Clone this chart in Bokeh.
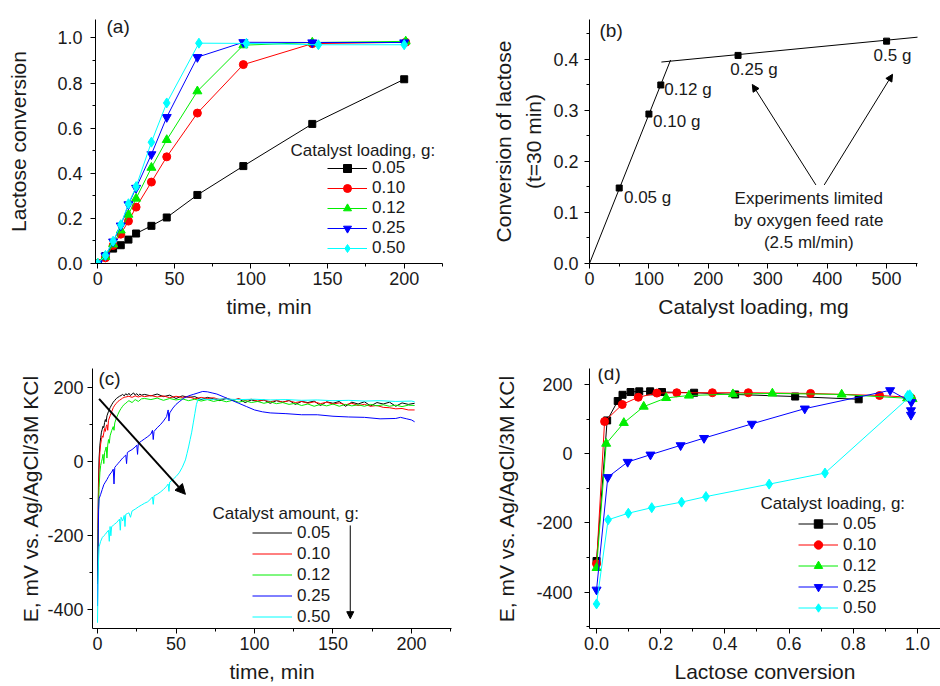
from bokeh.plotting import figure
from bokeh.models import (Range1d, FixedTicker, NumeralTickFormatter, Legend, LegendItem,
                          Label, Arrow, NormalHead)
from bokeh.layouts import column, row
from bokeh.embed import file_html
from bokeh.resources import INLINE

FONT = "Liberation Sans"
TXT = "#1a1a1a"

LOADINGS = ["0.05", "0.10", "0.12", "0.25", "0.50"]
COLORS = ["#000000", "#FF0000", "#00EE00", "#0000FF", "#00FFFF"]
MARKERS = ["square", "circle", "triangle", "inverted_triangle", "diamond"]
MSIZE = [7, 8, 9, 9, 10]

# ---------------- panel (a): conversion vs time ----------------
a_t_005 = [0, 5, 10, 15, 20, 25, 35, 45, 65, 95, 140, 200]
a_x_005 = [0.0, 0.033, 0.066, 0.081, 0.106, 0.133, 0.167, 0.204, 0.304, 0.432, 0.619, 0.817]
a_t_010 = [0, 5, 10, 15, 20, 25, 35, 45, 65, 95, 140, 201]
a_x_010 = [0.0, 0.025, 0.08, 0.13, 0.188, 0.25, 0.361, 0.473, 0.667, 0.882, 0.975, 0.981]
a_t_012 = [0, 5, 10, 15, 20, 25, 35, 45, 65, 95, 140, 201]
a_x_012 = [0.0, 0.03, 0.085, 0.147, 0.217, 0.288, 0.425, 0.548, 0.764, 0.968, 0.98, 0.985]
a_t_025 = [0, 5, 10, 15, 20, 25, 35, 45, 65, 95, 140, 200]
a_x_025 = [0.0, 0.035, 0.097, 0.168, 0.262, 0.335, 0.484, 0.649, 0.915, 0.981, 0.98, 0.98]
a_t_050 = [0, 5, 10, 15, 20, 25, 35, 45, 66, 97, 144, 200]
a_x_050 = [0.0, 0.036, 0.099, 0.172, 0.265, 0.341, 0.538, 0.712, 0.977, 0.976, 0.97, 0.97]

# ---------------- panel (b): conversion at 30 min vs loading ----------------
b_loading_mg = [50, 100, 120, 250, 500]
b_conv30 = [0.148, 0.293, 0.350, 0.408, 0.436]
b_point_labels = ["0.05 g", "0.10 g", "0.12 g", "0.25 g", "0.5 g"]
b_fit1_x = [0, 136.5]
b_fit1_y = [0.0, 0.399]
b_fit2_x = [121, 572]
b_fit2_y = [0.395, 0.446]

# ---------------- panel (c): potential vs time ----------------
c_t_005 = [0, 0.3, 0.6, 1, 1.5, 2, 2.5, 3, 3.5, 4, 4.5, 5, 5.5, 6, 7, 8, 9, 10, 11, 12, 13, 14,
           15, 16, 17, 18, 19, 20, 21, 22, 23, 24, 25, 26, 27, 28,
           30, 34, 38, 42, 46, 50, 54, 58, 62, 66, 70, 74, 78, 82, 86, 90, 94, 98, 102, 106,
           110, 114, 118, 122, 126, 130, 134, 138, 142, 146, 150, 154, 158, 162, 166, 170,
           174, 178, 182, 186, 190, 194, 198, 202]
c_E_005 = [-310, -180, -60, 10, 45, 65, 80, 88, 96, 92, 106, 114, 108, 124, 136, 146, 154, 161,
           166, 171, 174, 177, 179, 182, 178, 184, 180, 185, 179, 183, 186, 180, 184, 179, 183, 180,
           182, 178, 183, 176, 180, 171, 178, 174, 176, 168, 174, 170, 165, 171, 166, 170, 160,
           167, 163, 167, 158, 165, 161, 166, 155, 163, 160, 164, 152, 162, 158, 163, 150, 161,
           156, 162, 151, 160, 156, 161, 150, 159, 155, 158]
c_t_010 = [0, 0.3, 0.6, 1, 1.5, 2, 2.5, 3, 3.5, 4, 4.5, 5, 5.5, 6, 6.5, 7, 8, 9, 10, 11, 12, 13,
           14, 15, 16, 17, 18, 20, 22, 24, 26, 28,
           30, 34, 38, 42, 46, 50, 54, 58, 62, 66, 70, 74, 78, 82, 86, 90, 94, 98, 102, 106,
           110, 114, 118, 122, 126, 130, 134, 138, 142, 146, 150, 154, 158, 162, 166, 170,
           174, 178, 182, 186, 190, 194, 198, 202]
c_E_010 = [-320, -200, -90, -20, 25, 48, 60, 70, 66, 78, 90, 82, 95, 100, 85, 112, 124, 135,
           146, 153, 158, 163, 166, 169, 172, 174, 175, 177, 174, 178, 175, 178,
           176, 179, 175, 178, 173, 177, 174, 176, 170, 174, 171, 173, 168, 172, 167, 170,
           166, 169, 164, 167, 162, 166, 161, 165, 160, 163, 158, 162, 157, 161, 156, 159,
           154, 158, 152, 155, 150, 152, 147, 146, 143, 144, 140, 140]
c_t_012 = [0, 0.3, 0.6, 1, 1.5, 2, 2.5, 3, 3.5, 4, 4.5, 5, 5.5, 6, 6.5, 7, 7.5, 8, 9, 10, 10.5,
           11, 12, 13, 14, 15, 16, 17, 18, 19, 20, 22, 24, 26, 28,
           30, 34, 38, 42, 46, 50, 54, 58, 62, 66, 70, 74, 78, 82, 86, 90, 94, 98, 102, 106,
           110, 114, 118, 122, 126, 130, 134, 138, 142, 146, 150, 154, 158, 162, 166, 170,
           174, 178, 182, 186, 190, 194, 198, 202]
c_E_012 = [-330, -230, -140, -70, -30, -10, 0, 8, 20, -5, 25, 32, 40, 10, 45, 60, 50, 70, 84,
           95, 85, 105, 118, 128, 137, 144, 150, 155, 158, 162, 165, 160, 168, 163, 170,
           171, 168, 172, 166, 171, 167, 170, 165, 169, 164, 168, 163, 167, 162, 166, 161,
           165, 160, 163, 158, 162, 157, 160, 155, 158, 152, 156, 150, 155, 151, 156, 150,
           155, 151, 154, 150, 155, 151, 154, 150, 153, 149, 153, 152]
c_t_025 = [0, 0.3, 0.7, 1, 2, 3, 4, 5, 6, 7, 8, 9, 10, 10.5, 11, 12, 13, 14, 15, 16, 17, 18,
           18.5, 19, 20, 22, 24, 25, 25.5, 26, 28, 30, 32, 34, 35, 35.5, 36, 38, 40, 42, 44,
           45, 45.5, 46, 48, 50, 52, 55, 58, 61, 64, 67, 70, 73, 76, 80, 85, 90, 95, 100,
           105, 110, 115, 120, 130, 140, 150, 160, 170, 180, 190, 193, 197, 200, 202]
c_E_025 = [-390, -250, -130, -100, -88, -75, -62, -55, -48, -40, -33, -28, -20, -60, -15, -10,
           -5, 0, 5, 10, 14, 18, -5, 25, 28, 33, 40, 45, 20, 50, 56, 62, 68, 75, 85, 60, 82,
           92, 100, 110, 122, 140, 110, 132, 145, 155, 162, 172, 178, 182, 186, 190, 189,
           186, 183, 176, 167, 158, 149, 140, 135, 132, 131, 130, 127, 127, 123, 121, 120,
           116, 117, 120, 116, 113, 108]
c_t_050 = [0, 0.3, 0.7, 1, 2, 3, 4, 5, 6, 7, 7.5, 8, 8.5, 9, 10, 11, 12, 13, 14, 14.5, 15, 16,
           17, 17.5, 18, 19, 20, 21, 22, 24, 26, 28, 30, 32, 34, 35, 35.5, 36, 38, 40, 42, 44,
           45, 45.5, 46, 48, 50, 52, 54, 56, 57, 58, 59, 60, 61, 62, 63, 64, 66, 70, 80, 90,
           100, 110, 120, 130, 140, 150, 160, 170, 180, 190, 200, 202]
c_E_050 = [-435, -330, -260, -230, -215, -205, -200, -196, -190, -185, -215, -175, -200, -175,
           -172, -168, -165, -160, -155, -185, -150, -160, -145, -175, -142, -140, -138, -150,
           -133, -128, -122, -117, -112, -108, -100, -95, -115, -92, -88, -82, -75, -66, -60,
           -80, -55, -48, -40, -30, -15, 5, 22, 40, 60, 80, 105, 130, 155, 168, 170, 168, 170,
           168, 169, 167, 168, 166, 167, 165, 166, 164, 165, 163, 164, 162]

# ---------------- panel (d): potential vs conversion ----------------
d_E_005 = [-310, 96, 152, 170, 178, 180, 180, 178, 176, 171, 165, 157]
d_E_010 = [-318, 93, 142, 163, 175, 176, 176, 176, 174, 168, 163, 160]
d_E_012 = [-330, 29, 89, 136, 161, 168, 172, 174, 171, 160, 162, 158]
d_E_025 = [-393, -68, -24, -3, 24, 45, 86, 130, 183, 149, 125, 112]
d_E_050 = [-434, -191, -172, -156, -140, -124, -88, -56, 165, 170, 168, 166]

A_T = [a_t_005, a_t_010, a_t_012, a_t_025, a_t_050]
A_X = [a_x_005, a_x_010, a_x_012, a_x_025, a_x_050]
C_T = [c_t_005, c_t_010, c_t_012, c_t_025, c_t_050]
C_E = [c_E_005, c_E_010, c_E_012, c_E_025, c_E_050]
D_E = [d_E_005, d_E_010, d_E_012, d_E_025, d_E_050]


def make_fig(w, h, xr, yr, left, right, top, bottom):
    p = figure(width=w, height=h, x_range=Range1d(*xr), y_range=Range1d(*yr),
               output_backend="svg", toolbar_location=None,
               min_border_left=left, min_border_right=right,
               min_border_top=top, min_border_bottom=bottom)
    p.grid.visible = False
    p.outline_line_color = None
    p.background_fill_color = "white"
    p.border_fill_color = "white"
    return p


def style(p, xt, xm, yt, ym, xfmt, yfmt, xlabel, ylabel, ystand, ylab_stand, xlab_stand=7):
    p.xaxis.ticker = FixedTicker(ticks=xt, minor_ticks=xm)
    p.yaxis.ticker = FixedTicker(ticks=yt, minor_ticks=ym)
    p.xaxis.formatter = NumeralTickFormatter(format=xfmt)
    p.yaxis.formatter = NumeralTickFormatter(format=yfmt)
    p.xaxis.axis_label = xlabel
    p.yaxis.axis_label = ylabel
    for ax in p.xaxis + p.yaxis:
        ax.axis_line_color = "black"
        ax.axis_line_width = 1
        ax.major_tick_line_color = "black"
        ax.minor_tick_line_color = "black"
        ax.major_tick_out = 5
        ax.major_tick_in = 0
        ax.minor_tick_out = 3
        ax.minor_tick_in = 0
        ax.major_label_text_font = FONT
        ax.major_label_text_font_size = "18px"
        ax.major_label_text_color = TXT
        ax.axis_label_text_font = FONT
        ax.axis_label_text_font_size = "21px"
        ax.axis_label_text_font_style = "normal"
        ax.axis_label_text_color = TXT
    p.xaxis.major_label_standoff = 3
    p.xaxis.axis_label_standoff = xlab_stand
    p.yaxis.major_label_standoff = ystand
    p.yaxis.axis_label_standoff = ylab_stand


def add_legend(p, items, x, y, lh):
    leg = Legend(items=items, location=(x, y), orientation="vertical",
                 glyph_width=40, glyph_height=lh, label_height=lh, spacing=0,
                 padding=0, margin=0, label_standoff=5,
                 border_line_alpha=0, background_fill_alpha=0,
                 label_text_font=FONT, label_text_font_size="17px",
                 label_text_color=TXT)
    p.add_layout(leg)


def text(p, x, y, s, size="17px", align="left", baseline="middle"):
    p.add_layout(Label(x=x, y=y, text=s, text_font=FONT, text_font_size=size,
                       text_color=TXT, text_align=align, text_baseline=baseline))


# ---------- (a) ----------  (frames of a row share top/bottom borders)
pa = make_fig(470, 330, (-1.5, 225), (0, 1.082), 95, 28, 19, 67)
items = []
for i in range(5):
    l = pa.line(A_T[i], A_X[i], line_color=COLORS[i], line_width=1)
    s = pa.scatter(A_T[i], A_X[i], marker=MARKERS[i], size=MSIZE[i],
                   fill_color=COLORS[i], line_color=COLORS[i])
    items.append(LegendItem(label=LOADINGS[i], renderers=[l, s]))
style(pa, [0, 50, 100, 150, 200], [25, 75, 125, 175, 225],
      [0, 0.2, 0.4, 0.6, 0.8, 1.0], [0.1, 0.3, 0.5, 0.7, 0.9],
      "0", "0.0", "time, min", "Lactose conversion", 8, 24)
add_legend(pa, items, 232, 5, 20)
text(pa, 125.8, 0.5, "Catalyst loading, g:")
text(pa, 5.7, 1.053, "(a)", size="19px")

# ---------- (b) ----------
pb = make_fig(470, 330, (0, 552), (0, 0.4784), 119, 23, 19, 67)
pb.line(b_fit1_x, b_fit1_y, line_color="black", line_width=1)
pb.line(b_fit2_x, b_fit2_y, line_color="black", line_width=1)
pb.scatter(b_loading_mg, b_conv30, marker="square", size=6, fill_color="black", line_color="black")
style(pb, [0, 100, 200, 300, 400, 500], [50, 150, 250, 350, 450, 550],
      [0, 0.1, 0.2, 0.3, 0.4], [0.05, 0.15, 0.25, 0.35, 0.45],
      "0", "0.0", "Catalyst loading, mg", "Conversion of lactose\n(t=30 min)", 6, 5)
pb.yaxis.axis_label_text_line_height = 1.33
lab_pos = [(58, 0.130), (107, 0.279), (126, 0.342), (237, 0.381), (478, 0.407)]
for (x, y), s in zip(lab_pos, b_point_labels):
    text(pb, x, y, s)
text(pb, 369, 0.127, "Experiments limited", align="center")
text(pb, 369, 0.085, "by oxygen feed rate", align="center")
text(pb, 369, 0.042, "(2.5 ml/min)", align="center")
for xs, ys, xe, ye in [(381, 0.154, 274, 0.351), (395, 0.154, 510, 0.371)]:
    pb.add_layout(Arrow(x_start=xs, y_start=ys, x_end=xe, y_end=ye, line_width=1,
                        line_color="black",
                        end=NormalHead(size=7, fill_color="black", line_color="black")))
text(pb, 16.8, 0.456, "(b)", size="19px")

# ---------- (c) ----------
pc = make_fig(470, 356, (-3.2, 225.5), (-450.5, 252), 92, 19, 38, 58)
items = []
for i in range(5):
    l = pc.line(C_T[i], C_E[i], line_color=COLORS[i], line_width=1)
    items.append(LegendItem(label=LOADINGS[i], renderers=[l]))
style(pc, [0, 50, 100, 150, 200], [25, 75, 125, 175, 225],
      [-400, -200, 0, 200], [-300, -100, 100],
      "0", "0", "time, min", "E, mV vs. Ag/AgCl/3M KCl", 4, 2)
add_legend(pc, items, 160, 1, 21)
text(pc, 73.2, -140, "Catalyst amount, g:")
pc.add_layout(Arrow(x_start=1, y_start=170, x_end=56, y_end=-88, line_width=2,
                    line_color="black",
                    end=NormalHead(size=10, fill_color="black", line_color="black")))
pc.add_layout(Arrow(x_start=161, y_start=-172, x_end=161, y_end=-424, line_width=1,
                    line_color="black",
                    end=NormalHead(size=7, fill_color="black", line_color="black")))
text(pc, 0.6, 226, "(c)", size="19px")

# ---------- (d) ----------
pd_ = make_fig(470, 356, (-0.022, 1.072), (-505, 246), 119, 0, 38, 58)
items = []
for i in range(5):
    l = pd_.line(A_X[i], D_E[i], line_color=COLORS[i], line_width=1)
    s = pd_.scatter(A_X[i], D_E[i], marker=MARKERS[i], size=MSIZE[i],
                    fill_color=COLORS[i], line_color=COLORS[i])
    items.append(LegendItem(label=LOADINGS[i], renderers=[l, s]))
style(pd_, [0, 0.2, 0.4, 0.6, 0.8, 1.0], [0.1, 0.3, 0.5, 0.7, 0.9],
      [-400, -200, 0, 200], [-500, -300, -100, 100],
      "0.0", "0", "Lactose conversion", "E, mV vs. Ag/AgCl/3M KCl", 12, 15)
add_legend(pd_, items, 209, 10, 21)
text(pd_, 0.511, -144, "Catalyst loading, g:")
text(pd_, 0.003, 233, "(d)", size="19px")

layout = column(row(pa, pb), row(pc, pd_))
open("out.html", "w").write(file_html(layout, INLINE))
